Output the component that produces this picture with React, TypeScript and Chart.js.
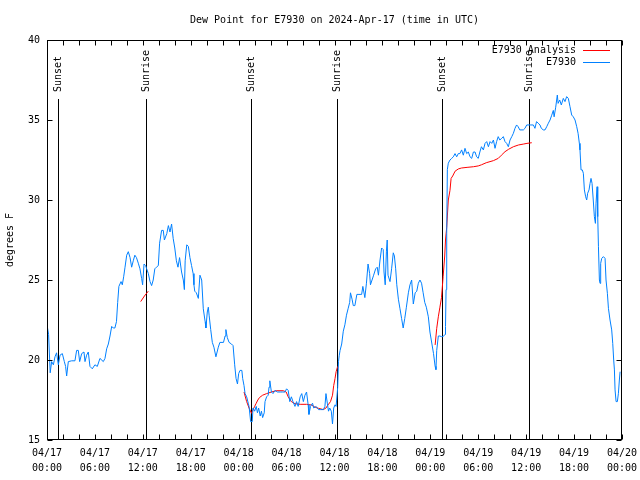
import React, { useEffect, useRef } from 'react';
import { Chart, registerables } from 'chart.js';

Chart.register(...registerables);

const FONT_FAMILY = '"DejaVu Sans Mono", "Liberation Mono", monospace';

const chartTitle = 'Dew Point for E7930 on 2024-Apr-17 (time in UTC)';
const yAxisTitle = 'degrees F';
const seriesNames = ['E7930 Analysis', 'E7930'];
const seriesColors = ['#ff0000', '#0080ff'];

// hours since 2024-04-17 00:00 UTC
const xTickLabels: string[][] = [
  ['04/17', '00:00'], ['04/17', '06:00'], ['04/17', '12:00'], ['04/17', '18:00'],
  ['04/18', '00:00'], ['04/18', '06:00'], ['04/18', '12:00'], ['04/18', '18:00'],
  ['04/19', '00:00'], ['04/19', '06:00'], ['04/19', '12:00'], ['04/19', '18:00'],
  ['04/20', '00:00'],
];
const yTicks = [15, 20, 25, 30, 35, 40];

const sunHours = [1.42, 12.44, 25.5, 36.36, 49.5, 60.4];
const sunLabels = ['Sunset', 'Sunrise', 'Sunset', 'Sunrise', 'Sunset', 'Sunrise'];

// observed dew point: [hour, degrees F]
const obsSeries: [number, number][] = [
  [0, 22.2], [0.2, 21.6], [0.4, 19.2], [0.58, 19.9], [0.8, 19.7], [1.0, 20.2], [1.2, 20.45], [1.42, 19.7],
  [1.63, 20.3], [1.92, 20.4], [2.17, 19.9], [2.33, 19.6], [2.46, 19.0], [2.67, 19.9], [3.09, 19.95], [3.5, 19.95],
  [3.71, 20.6], [3.92, 20.6], [4.09, 19.9], [4.34, 20.4], [4.63, 20.5], [4.76, 19.9], [4.96, 20.3], [5.17, 20.5],
  [5.38, 19.6], [5.67, 19.45], [6.0, 19.7], [6.3, 19.6], [6.63, 20.1], [7.05, 19.9], [7.26, 20.1], [7.47, 20.7],
  [7.68, 21.0], [7.89, 21.5], [8.1, 22.1], [8.3, 22.0], [8.5, 22.0], [8.7, 22.4], [8.85, 23.6], [9.0, 24.6],
  [9.27, 24.9], [9.43, 24.7], [9.6, 25.2], [9.77, 25.8], [9.98, 26.55], [10.18, 26.77], [10.4, 26.4], [10.6, 25.8],
  [10.8, 26.2], [11.0, 26.55], [11.2, 26.4], [11.43, 26.05], [11.64, 25.7], [11.85, 25.1], [11.97, 24.7], [12.15, 26.0],
  [12.35, 25.9], [12.48, 25.7], [12.69, 25.4], [12.9, 24.9], [13.1, 24.65], [13.3, 25.0], [13.5, 25.7], [13.7, 25.8],
  [13.94, 25.9], [14.1, 27.3], [14.35, 28.1], [14.56, 28.1], [14.7, 27.5], [15.0, 27.9], [15.2, 28.4], [15.4, 28.0],
  [15.6, 28.5], [15.8, 27.6], [16.0, 27.0], [16.2, 26.2], [16.4, 25.8], [16.6, 26.4], [16.85, 25.5], [17.07, 25.0],
  [17.2, 24.4], [17.3, 26.2], [17.5, 27.2], [17.7, 27.1], [17.9, 26.4], [18.1, 25.9], [18.3, 25.4], [18.4, 24.7],
  [18.5, 24.3], [18.7, 24.2], [18.95, 23.85], [19.15, 25.3], [19.37, 25.0], [19.57, 23.2], [19.8, 22.4], [19.9, 22.0],
  [20.07, 23.0], [20.2, 23.3], [20.3, 22.8], [20.5, 21.9], [20.7, 21.1], [20.9, 20.8], [21.15, 20.2], [21.45, 20.8],
  [21.65, 21.1], [22.1, 21.1], [22.3, 21.5], [22.4, 21.9], [22.58, 21.4], [22.8, 21.1], [23.1, 21.0], [23.3, 20.9],
  [23.5, 19.7], [23.67, 18.85], [23.85, 18.5], [24.0, 19.15], [24.17, 19.35], [24.4, 19.35], [24.5, 18.85], [24.67, 18.4],
  [24.8, 17.9], [25.0, 17.7], [25.2, 17.3], [25.3, 17.1], [25.5, 16.15], [25.7, 16.15], [25.8, 17.0], [26.0, 16.8],
  [26.2, 17.1], [26.35, 16.7], [26.5, 17.0], [26.7, 16.5], [26.85, 16.8], [27.0, 16.4], [27.2, 16.7], [27.3, 17.4],
  [27.5, 17.7], [27.7, 17.8], [27.8, 18.3], [27.9, 18.7], [28.1, 18.0], [28.3, 17.9], [28.55, 18.1], [28.85, 18.0],
  [29.2, 18.0], [29.5, 18.0], [29.8, 18.0], [30.0, 18.2], [30.2, 18.1], [30.4, 17.4], [30.6, 17.7], [30.8, 17.4],
  [31.05, 17.1], [31.25, 17.4], [31.45, 17.1], [31.7, 17.7], [31.9, 17.9], [32.1, 17.4], [32.3, 17.8], [32.5, 18.0],
  [32.7, 17.2], [32.8, 16.6], [33.0, 17.1], [33.25, 17.3], [33.4, 17.0], [33.7, 17.1], [34.0, 16.9], [34.27, 16.9],
  [34.6, 16.9], [34.8, 17.1], [34.93, 17.9], [35.1, 17.3], [35.25, 16.8], [35.4, 17.0], [35.6, 16.8], [35.75, 16.0],
  [35.9, 17.0], [36.07, 17.2], [36.2, 17.1], [36.4, 18.3], [36.5, 19.9], [36.6, 20.3], [36.7, 20.6], [36.9, 21.0],
  [37.1, 21.8], [37.3, 22.2], [37.5, 22.8], [37.7, 23.2], [37.9, 23.6], [38.0, 24.2], [38.2, 23.8], [38.35, 23.4],
  [38.55, 23.4], [38.8, 24.1], [38.95, 24.1], [39.2, 24.1], [39.4, 24.1], [39.55, 24.6], [39.8, 23.9], [40.0, 24.8],
  [40.2, 26.0], [40.4, 25.4], [40.5, 24.7], [40.7, 25.0], [40.9, 25.3], [41.15, 25.7], [41.35, 25.8], [41.5, 25.3],
  [41.7, 26.25], [41.9, 27.0], [42.1, 26.9], [42.2, 25.5], [42.35, 24.7], [42.5, 26.8], [42.6, 27.5], [42.7, 25.3],
  [42.95, 24.9], [43.15, 25.7], [43.36, 26.7], [43.5, 26.5], [43.66, 25.7], [43.8, 24.7], [44.0, 23.8], [44.2, 23.2],
  [44.4, 22.6], [44.6, 22.0], [44.8, 22.6], [45.0, 23.3], [45.25, 24.2], [45.45, 24.7], [45.66, 25.0], [45.87, 23.5],
  [46.1, 24.2], [46.3, 24.3], [46.5, 24.8], [46.7, 25.0], [46.9, 24.8], [47.1, 24.2], [47.3, 23.6], [47.5, 23.3],
  [47.75, 22.7], [47.95, 21.75], [48.2, 21.0], [48.4, 20.4], [48.6, 19.6], [48.7, 19.4], [48.8, 20.6], [49.0, 21.5],
  [49.2, 21.5], [49.4, 21.46], [49.6, 21.46], [49.84, 21.6], [49.9, 22.1], [49.97, 24.4], [50.05, 27.9], [50.13, 31.9],
  [50.25, 32.3], [50.46, 32.5], [50.67, 32.6], [50.88, 32.7], [51.09, 32.9], [51.3, 32.7], [51.5, 32.9], [51.7, 32.9],
  [51.92, 33.13], [52.13, 32.8], [52.34, 33.23], [52.55, 32.9], [52.76, 33.0], [52.97, 32.7], [53.18, 32.6], [53.39, 33.0],
  [53.6, 33.0], [53.8, 32.7], [54.0, 32.6], [54.2, 33.0], [54.4, 33.33], [54.64, 33.13], [54.85, 33.54], [55.06, 33.65],
  [55.27, 33.33], [55.48, 33.65], [55.69, 33.54], [55.9, 33.75], [56.1, 33.23], [56.3, 33.65], [56.5, 33.96], [56.7, 33.75],
  [56.93, 33.85], [57.14, 33.96], [57.35, 33.65], [57.56, 33.54], [57.77, 33.33], [57.98, 33.75], [58.2, 33.96], [58.4, 34.17],
  [58.6, 34.48], [58.8, 34.69], [59.0, 34.58], [59.2, 34.38], [59.65, 34.38], [59.85, 34.48], [60.07, 34.69], [60.5, 34.69],
  [60.9, 34.69], [61.1, 34.48], [61.3, 34.9], [61.5, 34.8], [61.73, 34.69], [61.9, 34.48], [62.15, 34.38], [62.36, 34.38],
  [62.57, 34.58], [62.78, 34.8], [62.99, 35.0], [63.2, 35.3], [63.4, 35.6], [63.5, 35.2], [63.7, 35.8], [63.9, 36.56],
  [64.0, 36.04], [64.2, 36.25], [64.4, 35.94], [64.65, 36.35], [64.86, 36.15], [65.07, 36.46], [65.28, 36.35], [65.49, 35.83],
  [65.7, 35.31], [65.9, 35.2], [66.12, 35.0], [66.33, 34.58], [66.5, 34.17], [66.66, 33.54], [66.74, 33.13], [66.87, 31.88],
  [67.03, 31.88], [67.16, 31.67], [67.29, 30.63], [67.45, 30.2], [67.58, 30.0], [67.7, 30.42], [67.87, 30.63], [68.0, 31.04],
  [68.12, 31.35], [68.25, 31.04], [68.4, 30.0], [68.54, 28.96], [68.67, 28.54], [68.75, 29.8], [68.88, 30.83], [68.96, 28.96],
  [69.05, 27.08], [69.17, 25.0], [69.25, 24.79], [69.33, 26.04], [69.46, 26.35], [69.67, 26.46], [69.88, 26.35], [70.0, 25.0],
  [70.17, 24.17], [70.3, 23.23], [70.5, 22.5], [70.71, 21.88], [70.84, 21.04], [70.96, 20.0], [71.05, 19.38], [71.13, 18.13],
  [71.26, 17.4], [71.42, 17.4], [71.55, 17.92], [71.67, 18.75], [71.76, 19.27],
];

// analysis dew point, three separate runs: [hour, degrees F]
const analysisRun1: [number, number][] = [[11.73, 23.65], [12.2, 24.0], [12.68, 24.3]];
const analysisRun2: [number, number][] = [
  [24.67, 18.0], [25.0, 17.4], [25.3, 17.0], [25.6, 16.67], [25.8, 16.9], [26.0, 17.1], [26.2, 17.3], [26.4, 17.5],
  [26.6, 17.65], [27.0, 17.8], [27.5, 17.9], [28.1, 18.0], [28.7, 18.08], [29.6, 18.08], [29.95, 18.0], [30.2, 17.7],
  [30.6, 17.4], [31.05, 17.27], [31.7, 17.23], [32.5, 17.23], [33.1, 17.19], [33.6, 17.04], [34.0, 16.98], [34.6, 16.9],
  [34.93, 17.0], [35.2, 17.2], [35.5, 17.4], [35.75, 17.8], [35.9, 18.4], [36.07, 18.85], [36.2, 19.27], [36.4, 19.6],
];
const analysisRun3: [number, number][] = [
  [48.6, 20.94], [48.8, 21.98], [49.0, 22.7], [49.2, 23.3], [49.4, 23.9], [49.6, 25.2], [49.8, 26.5], [49.9, 27.5],
  [50.05, 28.3], [50.25, 30.0], [50.46, 30.6], [50.6, 31.35], [50.8, 31.5], [51.1, 31.8], [51.5, 31.94], [51.9, 32.0],
  [52.6, 32.04], [53.4, 32.08], [54.0, 32.13], [54.4, 32.2], [55.0, 32.33], [55.9, 32.46], [56.5, 32.6], [56.9, 32.8],
  [57.35, 33.02], [57.8, 33.17], [58.4, 33.33], [59.05, 33.44], [59.7, 33.5], [60.1, 33.54], [60.7, 33.58],
];

const toPoints = (arr: [number, number][]) => arr.map(([x, y]) => ({ x, y }));

const analysisPoints = (() => {
  const runs = [analysisRun1, analysisRun2, analysisRun3];
  const out: { x: number; y: number | null }[] = [];
  runs.forEach((run, i) => {
    if (i > 0) out.push({ x: run[0][0] - 0.01, y: null });
    out.push(...toPoints(run));
  });
  return out;
})();

const frame = {
  id: 'gnuplotFrame',
  beforeDatasetsDraw(chart: any) {
    const { ctx, chartArea: a, scales } = chart;
    const x = scales.x;
    ctx.save();
    ctx.strokeStyle = '#000';
    ctx.fillStyle = '#000';
    ctx.lineWidth = 1;
    ctx.font = `10px ${FONT_FAMILY}`;
    sunHours.forEach((h, i) => {
      const px = Math.round(x.getPixelForValue(h)) + 0.5;
      ctx.beginPath();
      ctx.moveTo(px, a.top + 59);
      ctx.lineTo(px, a.bottom);
      ctx.stroke();
      ctx.save();
      ctx.translate(px, a.top + 52);
      ctx.rotate(-Math.PI / 2);
      ctx.textAlign = 'left';
      ctx.textBaseline = 'middle';
      ctx.fillText(sunLabels[i], 0, 0);
      ctx.restore();
    });
    ctx.restore();
  },
  afterDraw(chart: any) {
    const { ctx, chartArea: a, scales } = chart;
    const x = scales.x;
    const y = scales.y;
    const L = Math.round(a.left) + 0.5;
    const R = Math.round(a.right) - 0.5;
    const T = Math.round(a.top) + 0.5;
    const B = Math.round(a.bottom) - 0.5;
    ctx.save();
    ctx.strokeStyle = '#000';
    ctx.lineWidth = 1;
    ctx.strokeRect(L, T, R - L, B - T);
    ctx.beginPath();
    for (let h = 0; h <= 72; h += 2) {
      const px = Math.round(x.getPixelForValue(h)) + 0.5;
      ctx.moveTo(px, B);
      ctx.lineTo(px, B - 5);
      ctx.moveTo(px, T);
      ctx.lineTo(px, T + 5);
    }
    yTicks.forEach((v) => {
      const py = Math.round(y.getPixelForValue(v)) + 0.5;
      ctx.moveTo(L, py);
      ctx.lineTo(L + 5, py);
      ctx.moveTo(R, py);
      ctx.lineTo(R - 5, py);
    });
    ctx.stroke();

    ctx.fillStyle = '#000';
    ctx.font = `10px ${FONT_FAMILY}`;
    ctx.textAlign = 'center';
    ctx.textBaseline = 'middle';
    ctx.fillText(chartTitle, (a.left + a.right) / 2, 20);

    seriesNames.forEach((name, i) => {
      const yy = a.top + 10 + i * 12;
      ctx.fillStyle = '#000';
      ctx.textAlign = 'right';
      ctx.fillText(name, a.right - 46, yy);
      ctx.strokeStyle = seriesColors[i];
      ctx.beginPath();
      ctx.moveTo(a.right - 39, Math.round(yy) + 0.5);
      ctx.lineTo(a.right - 12, Math.round(yy) + 0.5);
      ctx.stroke();
    });
    ctx.restore();
  },
};

export default function App() {
  const canvasRef = useRef<HTMLCanvasElement | null>(null);

  useEffect(() => {
    document.body.style.margin = '0';
    const canvas = canvasRef.current;
    if (!canvas) return;
    const chart = new Chart(canvas, {
      type: 'line',
      data: {
        datasets: [
          {
            label: seriesNames[0],
            data: analysisPoints as any,
            borderColor: seriesColors[0],
            backgroundColor: seriesColors[0],
            borderWidth: 1,
            pointRadius: 0,
            tension: 0,
            spanGaps: false,
            order: 1,
          },
          {
            label: seriesNames[1],
            data: toPoints(obsSeries) as any,
            borderColor: seriesColors[1],
            backgroundColor: seriesColors[1],
            borderWidth: 1,
            pointRadius: 0,
            tension: 0,
            order: 0,
          },
        ],
      },
      options: {
        responsive: false,
        maintainAspectRatio: false,
        animation: false,
        events: [],
        layout: { padding: { top: 40, right: 18, left: 0, bottom: 0 } },
        plugins: {
          legend: { display: false },
          title: { display: false },
          tooltip: { enabled: false },
        },
        scales: {
          x: {
            type: 'linear',
            min: 0,
            max: 72,
            grid: { display: false, drawTicks: false },
            border: { display: false },
            ticks: {
              stepSize: 6,
              autoSkip: false,
              maxRotation: 0,
              minRotation: 0,
              color: '#000',
              padding: 6,
              font: { family: FONT_FAMILY, size: 10, lineHeight: 1.5 },
              callback: (v: any) => xTickLabels[Math.round(Number(v) / 6)] ?? '',
            },
            afterFit: (s: any) => {
              s.height = 40;
              s.paddingLeft = 0;
              s.paddingRight = 0;
            },
          },
          y: {
            type: 'linear',
            min: 15,
            max: 40,
            grid: { display: false, drawTicks: false },
            border: { display: false },
            ticks: {
              stepSize: 5,
              color: '#000',
              padding: 7,
              font: { family: FONT_FAMILY, size: 10 },
            },
            title: {
              display: true,
              text: yAxisTitle,
              color: '#000',
              font: { family: FONT_FAMILY, size: 10 },
              padding: { top: 4, bottom: 0 },
            },
            afterFit: (s: any) => {
              s.width = 47;
              s.paddingTop = 0;
              s.paddingBottom = 0;
            },
          },
        },
      },
      plugins: [frame],
    });
    return () => chart.destroy();
  }, []);

  return (
    <canvas ref={canvasRef} width={640} height={480} style={{ display: 'block', width: 640, height: 480 }} />
  );
}
